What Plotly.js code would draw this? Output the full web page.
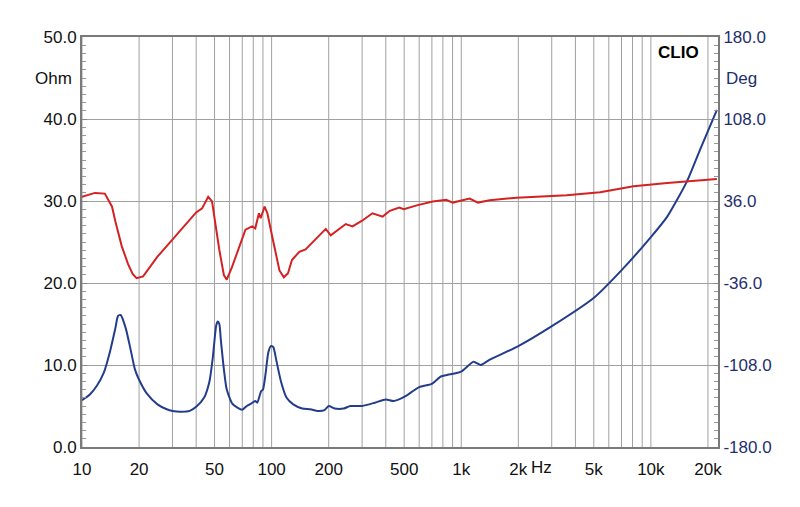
<!DOCTYPE html>
<html><head><meta charset="utf-8">
<script src="https://cdn.plot.ly/plotly-3.0.1.min.js"></script>
<style>body{margin:0;background:#fff}#chart{width:800px;height:507px}</style>
</head><body><div id="chart"></div>
<script>
// Impedance magnitude (Ohm, left axis)
const impFreq = [10,11,12,13,14,15,15.5,16,17,18,19,20,22,25,28,30,33,37,40,44,47,49,51,52,53,54,56,58,62,66,70,74,78,82,84,88,90,93,96,99,102,106,112,120,130,145,160,175,190,200,215,240,260,300,350,400,440,500,600,700,780,849,1000,1161,1265,1400,2000,2990,5010,7030,10000,12200,15500,18200,22300];
const impOhm  = [5.7,6.4,7.5,9.0,11.5,14.5,16.0,16.1,14.5,12.0,9.5,8.2,6.5,5.2,4.6,4.4,4.3,4.4,4.9,6.0,8.0,11,14.8,15.3,15.0,13,9.5,7.0,5.3,4.8,4.55,5.0,5.3,5.6,5.4,6.8,7.0,9,11.5,12.3,12.2,10.5,8,6.0,5.2,4.7,4.6,4.4,4.5,5.0,4.7,4.7,5.0,5.0,5.4,5.8,5.6,6.1,7.3,7.7,8.6,8.8,9.2,10.4,10.0,10.6,12.3,14.7,18.2,21.6,25.6,28.1,32.4,36.3,41.1];
// Phase (Deg, right axis)
const phFreq = [10,11.7,13.2,14.4,15,16.2,17.5,18.5,19.4,21,25,30,35,40,43,46.3,48.5,50,53,56,58,61.7,67,72.8,78.9,82,85.7,87.5,91.8,95,100,105,110,116,122,128,140,151,165,178,193,205,225,246,267,300,340,385,420,471,498,589,708,832,903,1107,1225,1412,1955,3600,5400,8100,12200,22300];
const phDeg  = [39.6,43.1,42.5,31.0,18,-3.6,-19.4,-28,-31.7,-30.2,-12.9,2.2,15,26,29.5,39.6,35.6,20,-7,-29,-33.1,-22.3,-5,10.8,13.7,12,25.2,20.9,31,25.2,7.2,-9.4,-25,-31,-27.4,-15.8,-8.6,-6.5,0,5,11.5,5.8,10.8,15.8,13.7,18.7,25.2,22.3,27.4,30.2,28.8,32.4,35.6,37.1,34.6,38.2,34.6,36.7,38.9,41,43.6,49,51.8,55.4];
const xTickVals = [10,20,50,100,200,500,1000,2000,5000,10000,20000];
const xTickText = ['10','20','50','100','200','500','1k','2k','5k','10k','20k'];
const ohmTickVals = [0,10,20,30,40,50];
const ohmTickText = ['0.0','10.0','20.0','30.0','40.0','50.0'];
const degTickVals = [-180,-108,-36,36,108,180];
const degTickText = ['-180.0','-108.0','-36.0','36.0','108.0','180.0'];
const gridVals = [10,20,30,40,50,60,70,80,90,100,200,300,400,500,600,700,800,900,1000,2000,3000,4000,5000,6000,7000,8000,9000,10000,20000];

const font = 'Liberation Sans, Arial, sans-serif';
const navy = '#1f2f6e';
const fs = 17;
const traces = [
  {x: impFreq, y: impOhm, type:'scatter', mode:'lines', line:{color:'#233d8c', width:2, shape:'spline', smoothing:0.6}, yaxis:'y', hoverinfo:'skip'},
  {x: phFreq, y: phDeg, type:'scatter', mode:'lines', line:{color:'#d42222', width:2}, yaxis:'y2', hoverinfo:'skip'}
];
const layout = {
  width:800, height:507, showlegend:false,
  paper_bgcolor:'#fff', plot_bgcolor:'#fff',
  margin:{l:82, r:82, t:37, b:60},
  font:{family:font, size:fs, color:'#111'},
  xaxis:{type:'log', range:[1, 4.354], tickmode:'array', tickvals:xTickVals, ticktext:xTickText,
    showgrid:false, zeroline:false, showline:true, mirror:true, linecolor:'#7a7a7a', linewidth:2,
    ticks:'', ticklabelstandoff:6, tickfont:{family:font, size:fs, color:'#111'}},
  yaxis:{range:[0,50], tickmode:'array', tickvals:ohmTickVals, ticktext:ohmTickText, showgrid:true, gridcolor:'#a0a0a0', gridwidth:1,
    zeroline:false, showline:true, linecolor:'#7a7a7a', linewidth:2, ticks:'inside', ticklen:5, tickcolor:'#888',
    minor:{tickmode:'linear', tick0:0, dtick:1, ticks:'inside', ticklen:4, tickcolor:'#999', showgrid:false},
    tickfont:{family:font, size:fs, color:'#111'}},
  yaxis2:{range:[-180,180], tickmode:'array', tickvals:degTickVals, ticktext:degTickText, overlaying:'y', side:'right', showgrid:false,
    zeroline:false, showline:true, linecolor:'#7a7a7a', linewidth:2, ticks:'inside', ticklen:5, tickcolor:'#888',
    minor:{tickmode:'linear', tick0:-180, dtick:7.2, ticks:'inside', ticklen:4, tickcolor:'#999', showgrid:false},
    tickfont:{family:font, size:fs, color:navy}},
  shapes: gridVals.map(v => ({type:'line', xref:'x', yref:'paper', x0:v, x1:v, y0:0, y1:1, line:{color:'#a0a0a0', width:1}, layer:'below'})),
  annotations:[
    {text:'Ohm', xref:'paper', yref:'paper', x:-0.013, y:0.9, xanchor:'right', yanchor:'middle', showarrow:false, font:{family:font, size:fs, color:'#111'}},
    {text:'Deg', xref:'paper', yref:'paper', x:1.01, y:0.9, xanchor:'left', yanchor:'middle', showarrow:false, font:{family:font, size:fs, color:navy}},
    {text:'<b>CLIO</b>', xref:'paper', yref:'paper', x:0.974, y:0.963, xanchor:'right', yanchor:'middle', showarrow:false, font:{family:font, size:17, color:'#000'}},
    {text:'Hz', xref:'x', yref:'paper', x:Math.log10(2000), y:-0.0512, xanchor:'left', yanchor:'middle', xshift:11, showarrow:false, font:{family:font, size:fs, color:'#111'}}
  ]
};
Plotly.newPlot('chart', traces, layout, {displayModeBar:false, staticPlot:true});
</script></body></html>
